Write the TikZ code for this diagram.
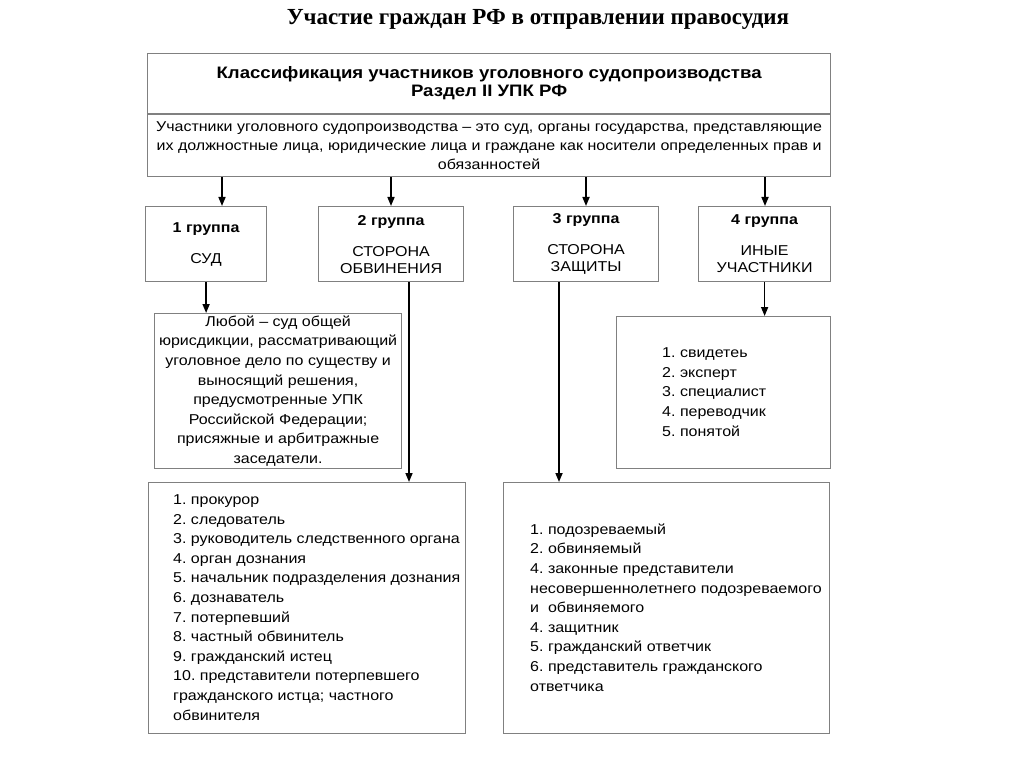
\documentclass[tikz,border=0pt]{standalone}
\usepackage{fontspec}
\setmainfont{Liberation Serif}
\setsansfont[FakeStretch=1.12]{Liberation Sans}
\usetikzlibrary{arrows.meta}
\frenchspacing

\begin{document}
\begin{tikzpicture}[x=1pt, y=-1pt]
    \tikzstyle{box}=[draw=gray, line width=1.2pt, inner sep=0pt, anchor=north west, font=\sffamily\fontsize{14.3}{19.6}\selectfont]
    \tikzstyle{grp}=[box, align=center, minimum height=75pt, font=\sffamily\fontsize{14.3}{17}\selectfont]
    \tikzstyle{lst}=[anchor=west, align=left, inner sep=0pt, font=\sffamily\fontsize{14.3}{19.6}\selectfont]
    \tikzstyle{arr}=[-{Triangle[length=9pt,width=7pt]}, line width=1.6pt]

    \useasboundingbox (0,0) rectangle (1024,767);

    \node[font=\bfseries\fontsize{23}{26}\selectfont] (title) at (538,19) {Участие граждан РФ в отправлении правосудия};

    % classification box
    \node[box, minimum width=683pt, minimum height=60pt, align=center, font=\sffamily\bfseries\fontsize{16.6}{18}\selectfont] (head) at (147,53)
        {Классификация участников уголовного судопроизводства\\Раздел II УПК РФ};
    \node[box, minimum width=683pt, minimum height=62pt, align=center, font=\sffamily\fontsize{14.3}{19}\selectfont] (def) at (head.south west)
        {Участники уголовного судопроизводства – это суд, органы государства, представляющие\\
         их должностные лица, юридические лица и граждане как носители определенных прав и\\
         обязанностей};

    % groups
    \node[grp, minimum width=121pt] (g1) at (145,206) {\textbf{1 группа}\\[14pt]СУД};
    \node[grp, minimum width=145pt] (g2) at (318,206) {\textbf{2 группа}\\[14pt]СТОРОНА\\ОБВИНЕНИЯ};
    \node[grp, minimum width=145pt] (g3) at (513,206) {\textbf{3 группа}\\[14pt]СТОРОНА\\ЗАЩИТЫ};
    \node[grp, minimum width=132pt] (g4) at (698,206) {\textbf{4 группа}\\[14pt]ИНЫЕ\\УЧАСТНИКИ};

    \foreach \x [count=\i] in {222,391,586,765} {
        \coordinate (a\i) at (\x,0);
        \draw[arr] (def.south -| a\i) -- (g\i.north -| a\i);
    }

    % court
    \node[box, minimum width=247pt, minimum height=155pt, align=center] (court) at (154,313)
        {Любой – суд общей\\юрисдикции, рассматривающий\\уголовное дело по существу и\\выносящий решения,\\
         предусмотренные УПК\\Российской Федерации;\\присяжные и арбитражные\\заседатели.};

    % other participants
    \node[box, minimum width=214pt, minimum height=152pt] (others) at (616,316) {};
    \node[lst] (otherl) at (662,392) {1. свидетеь\\2. эксперт\\3. специалист\\4. переводчик\\5. понятой};

    % prosecution
    \node[box, minimum width=317pt, minimum height=251pt] (pros) at (148,482) {};
    \node[lst] (prosl) at (173,607.5)
        {1. прокурор\\2. следователь\\3. руководитель следственного органа\\4. орган дознания\\
         5. начальник подразделения дознания\\6. дознаватель\\7. потерпевший\\8. частный обвинитель\\
         9. гражданский истец\\10. представители потерпевшего\\гражданского истца; частного\\обвинителя};

    % defence
    \node[box, minimum width=326pt, minimum height=251pt] (defn) at (503,482) {};
    \node[lst] (defnl) at (530,607.5)
        {1. подозреваемый\\2. обвиняемый\\4. законные представители\\несовершеннолетнего подозреваемого\\
         и\ \ обвиняемого\\4. защитник\\5. гражданский ответчик\\6. представитель гражданского\\ответчика};

    \coordinate (b2) at (409,0);
    \coordinate (b3) at (559,0);
    \draw[arr] (g1.south) -- (g1.south |- court.north);
    \draw[arr] (g2.south -| b2) -- (pros.north -| b2);
    \draw[arr] (g3.south -| b3) -- (defn.north -| b3);
    \draw[arr] (g4.south) -- (g4.south |- others.north);
\end{tikzpicture}
\end{document}
